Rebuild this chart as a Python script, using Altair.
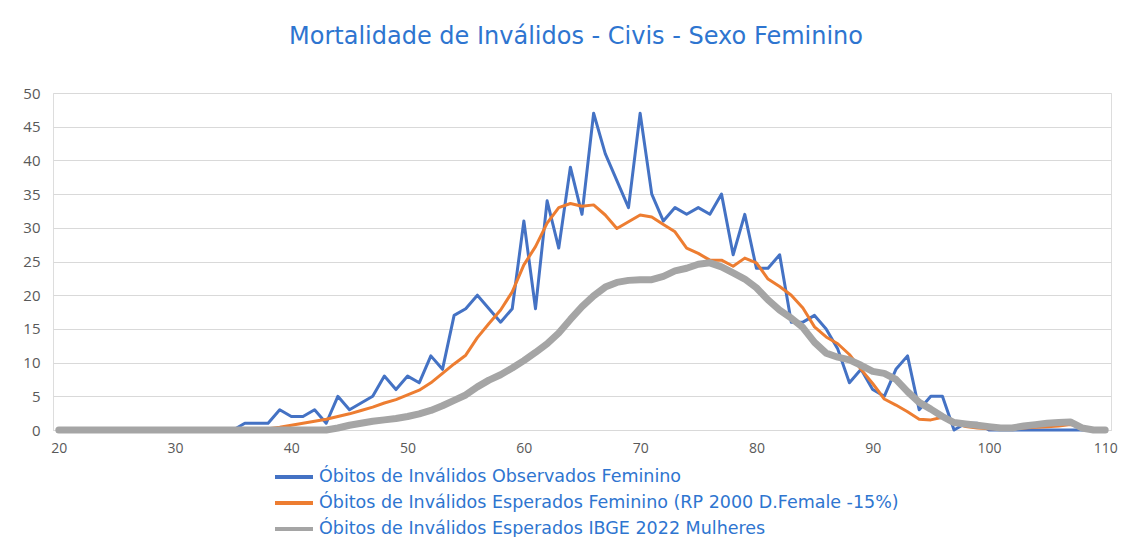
import altair as alt
import pandas as pd

ages = list(range(20, 111))

observed = [0]*16 + [
    1, 1, 1, 3, 2, 2, 3, 1, 5, 3,          # 36-45
    4, 5, 8, 6, 8, 7, 11, 9, 17, 18,       # 46-55
    20, 18, 16, 18, 31, 18, 34, 27, 39, 32,  # 56-65
    47, 41, 37, 33, 47, 35, 31, 33, 32, 33,  # 66-75
    32, 35, 26, 32, 24, 24, 26, 16, 16, 17,  # 76-85
    15, 12, 7, 9, 6, 5, 9, 11, 3, 5,         # 86-95
    5, 0, 1, 1, 0, 0, 0, 0, 0, 0,            # 96-105
    0, 0, 0, 0, 0]                           # 106-110

rp2000 = [0]*18 + [
    0.2, 0.4, 0.7, 1.0, 1.3, 1.6, 2.0, 2.4,            # 38-45
    2.9, 3.4, 4.0, 4.5, 5.2, 5.9, 7.0, 8.4, 9.8, 11.1,  # 46-55
    13.7, 15.8, 17.8, 20.5, 24.5, 27.2, 30.7, 33.0, 33.6, 33.2,  # 56-65
    33.4, 31.9, 29.9, 30.9, 31.9, 31.6, 30.5, 29.4, 27.0, 26.2,  # 66-75
    25.2, 25.2, 24.3, 25.5, 24.8, 22.4, 21.3, 20.0, 18.1, 15.3,  # 76-85
    13.8, 12.8, 11.2, 9.0, 6.9, 4.6, 3.7, 2.7, 1.6, 1.5,         # 86-95
    1.9, 1.1, 0.5, 0.3, 0.2, 0.2, 0.2, 0.3, 0.4, 0.5,            # 96-105
    0.6, 0.8, 0.5, 0, 0]                                         # 106-110

ibge = [0]*24 + [
    0.3, 0.7,                                                    # 44-45
    1.0, 1.3, 1.5, 1.7, 2.0, 2.4, 2.9, 3.6, 4.4, 5.2,            # 46-55
    6.4, 7.4, 8.2, 9.2, 10.3, 11.5, 12.8, 14.4, 16.4, 18.3,      # 56-65
    19.9, 21.2, 21.9, 22.2, 22.3, 22.3, 22.8, 23.6, 24.0, 24.6,  # 66-75
    24.8, 24.2, 23.3, 22.4, 21.1, 19.3, 17.8, 16.6, 15.2, 13.0,  # 76-85
    11.4, 10.8, 10.4, 9.6, 8.7, 8.4, 7.5, 5.7, 4.1, 3.1,         # 86-95
    2.0, 1.1, 0.9, 0.7, 0.5, 0.3, 0.3, 0.6, 0.8, 1.0,            # 96-105
    1.1, 1.2, 0.3, 0, 0]                                         # 106-110

series_names = [
    "Óbitos de Inválidos Observados Feminino",
    "Óbitos de Inválidos Esperados Feminino (RP 2000 D.Female -15%)",
    "Óbitos de Inválidos Esperados IBGE 2022 Mulheres",
]
series_colors = ["#4472C4", "#ED7D31", "#A5A5A5"]
series_widths = [3, 3, 7]
x_ticks = list(range(20, 111, 10))
y_ticks = list(range(0, 51, 5))

rows = []
for name, vals in zip(series_names, [observed, rp2000, ibge]):
    for a, v in zip(ages, vals):
        rows.append({"idade": a, "valor": v, "serie": name})
df = pd.DataFrame(rows)

color = alt.Color("serie:N", scale=alt.Scale(domain=series_names, range=series_colors),
                  legend=alt.Legend(title=None, orient="none", legendX=220, legendY=371,
                                    direction="vertical", symbolType="stroke",
                                    symbolSize=1444, symbolStrokeWidth=4, clipHeight=26,
                                    labelFontSize=17.5, labelColor="#2E75D0",
                                    labelFont="DejaVu Sans", labelOffset=4, rowPadding=0,
                                    labelLimit=800, padding=0))

x = alt.X("idade:Q", scale=alt.Scale(domain=[19.5, 110.5], nice=False, zero=False),
          axis=alt.Axis(title=None, values=x_ticks, grid=False, ticks=False,
                        domainColor="#D9D9D9", labelColor="#595959", labelFontSize=14,
                        labelFont="Open Sans", labelPadding=11))
y = alt.Y("valor:Q", scale=alt.Scale(domain=[0, 50], nice=False),
          axis=alt.Axis(title=None, values=y_ticks, grid=True, gridColor="#D9D9D9",
                        domain=False, ticks=False, labelColor="#595959", labelFontSize=15,
                        labelFont="Open Sans", labelPadding=13))

layers = []
for name, w in zip(series_names, series_widths):
    layers.append(
        alt.Chart(df).transform_filter(alt.datum.serie == name)
        .mark_line(strokeJoin="round", strokeCap="round", strokeWidth=w)
        .encode(x=x, y=y, color=color)
    )

chart = alt.layer(*layers).properties(
    width=1058, height=337,
    title=alt.TitleParams("Mortalidade de Inválidos - Civis - Sexo Feminino",
                          fontSize=24, color="#2E75D0", font="DejaVu Sans",
                          fontWeight="normal", anchor="middle", offset=37, dx=-6),
    autosize=alt.AutoSizeParams(type="none"),
    padding={"left": 45, "top": 85, "right": 9, "bottom": 107},
).configure_view(stroke=None).configure(background="white")

chart.save("out.html", embed_options={"renderer": "svg", "actions": False})
